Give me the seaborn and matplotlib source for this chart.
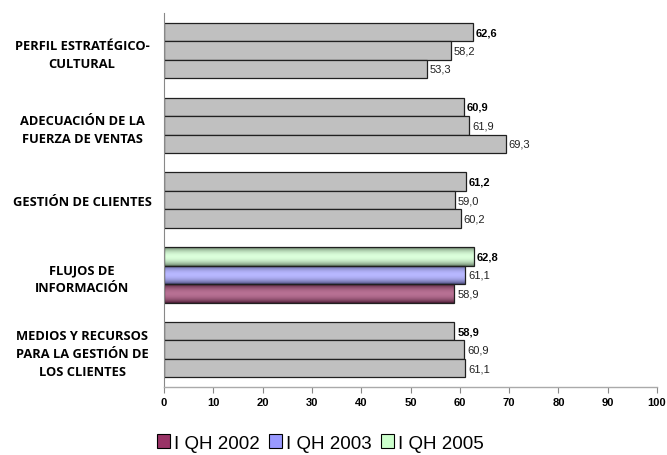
import numpy as np
import pandas as pd
import matplotlib
matplotlib.use("Agg")
import matplotlib.pyplot as plt
import seaborn as sns
from matplotlib.patches import Patch
from matplotlib.colors import to_rgb

categories = [
    "PERFIL ESTRATÉGICO-\nCULTURAL",
    "ADECUACIÓN DE LA\nFUERZA DE VENTAS",
    "GESTIÓN DE CLIENTES",
    "FLUJOS DE\nINFORMACIÓN",
    "MEDIOS Y RECURSOS\nPARA LA GESTIÓN DE\nLOS CLIENTES",
]
series = ["I QH 2002", "I QH 2003", "I QH 2005"]
qh_2002 = [53.3, 69.3, 60.2, 58.9, 61.1]
qh_2003 = [58.2, 61.9, 59.0, 61.1, 60.9]
qh_2005 = [62.6, 60.9, 61.2, 62.8, 58.9]
x_ticks = [0, 10, 20, 30, 40, 50, 60, 70, 80, 90, 100]

highlight = "FLUJOS DE\nINFORMACIÓN"
series_colors = {"I QH 2002": "#993366", "I QH 2003": "#9999FF", "I QH 2005": "#CCFFCC"}
grey = "#C0C0C0"

df = pd.DataFrame({
    "categoria": categories * 3,
    "serie": ["I QH 2002"] * 5 + ["I QH 2003"] * 5 + ["I QH 2005"] * 5,
    "valor": qh_2002 + qh_2003 + qh_2005,
})

sns.set_style("white")
plt.rcParams["font.family"] = ["DejaVu Sans"]
plt.rcParams["text.color"] = "black"
plt.rcParams["xtick.color"] = "black"
plt.rcParams["ytick.color"] = "black"

fig = plt.figure(figsize=(6.67, 4.56), dpi=100)
ax = fig.add_axes([0.246, 0.149, 0.739, 0.82])

hue_order = ["I QH 2005", "I QH 2003", "I QH 2002"]
sns.barplot(data=df, x="valor", y="categoria", hue="serie", order=categories,
            hue_order=hue_order, orient="h", width=0.74, ax=ax,
            palette={s: grey for s in series}, edgecolor="#202020", linewidth=0.9,
            legend=False, errorbar=None)

hl_idx = categories.index(highlight)


def gradient_fill(ax, patch, color):
    x0, y0 = patch.get_x(), patch.get_y()
    w, h = patch.get_width(), patch.get_height()
    base = np.array(to_rgb(color))
    t = np.linspace(0, 1, 64)
    # cylinder-like shading: dark edges, light centre
    shade = np.sin(np.pi * t) ** 0.7
    dark = base * 0.45
    light = base + (1 - base) * 0.3
    rows = dark[None, :] + (light - dark)[None, :] * shade[:, None]
    img = rows[:, None, :]
    im = ax.imshow(img, extent=(x0, x0 + w, y0 + h, y0), aspect="auto",
                   interpolation="bilinear", zorder=patch.get_zorder() + 0.1)
    im.set_clip_path(patch)
    patch.set_facecolor("none")
    patch.set_zorder(patch.get_zorder() + 0.2)


for container, s in zip(ax.containers, hue_order):
    bold = s == "I QH 2005"
    for i, bar in enumerate(container):
        if i == hl_idx:
            gradient_fill(ax, bar, series_colors[s])
    labels = [f"{v:.1f}".replace(".", ",") for v in container.datavalues]
    ax.bar_label(container, labels=labels, padding=2, fontsize=8,
                 fontweight="bold" if bold else "normal",
                 family="Liberation Sans", color="black" if bold else "#222222")

ax.set_xlim(0, 100)
ax.set_ylim(len(categories) - 0.5, -0.5)
ax.set_xticks(x_ticks)
ax.set_xticklabels([str(t) for t in x_ticks], fontsize=8, fontweight="bold",
                   family="Liberation Sans")
ax.set_yticks(np.arange(len(categories)))
ax.set_yticklabels(categories, fontsize=9.3, fontweight="bold", linespacing=1.5,
                   ha="center", family="Open Sans")
ax.tick_params(axis="y", length=0, pad=59)
ax.set_yticks(np.arange(-0.5, len(categories)), minor=True)
ax.tick_params(axis="y", which="minor", length=4, color="#888888", width=0.8)
ax.tick_params(axis="x", length=4, color="#888888", width=0.8, direction="out",
               bottom=True)
ax.set_xlabel("")
ax.set_ylabel("")

for side in ["top", "right"]:
    ax.spines[side].set_visible(False)
ax.spines["left"].set_color("#888888")
ax.spines["left"].set_linewidth(0.8)
ax.spines["bottom"].set_color("#AAAAAA")
ax.spines["bottom"].set_linewidth(1.0)

handles = [Patch(facecolor=series_colors[s], edgecolor="black", linewidth=0.8)
           for s in series]
fig.legend(handles, series, loc="center", bbox_to_anchor=(320 / 667, 1 - 444 / 456),
           ncol=3, frameon=False, prop={"family": "Liberation Sans", "size": 13.5},
           handlelength=0.7, handleheight=0.7, handletextpad=0.2, columnspacing=0.5,
           borderpad=0, labelcolor="black")

fig.savefig("out.png", dpi=100)
